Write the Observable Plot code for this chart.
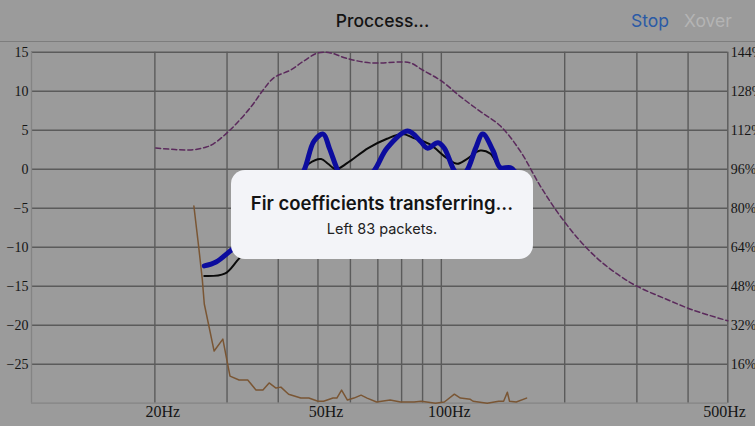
<!DOCTYPE html>
<html><head><meta charset="utf-8">
<script src="https://cdn.jsdelivr.net/npm/d3@7"></script>
<script src="https://cdn.jsdelivr.net/npm/@observablehq/plot@0.6"></script>
<style>
html,body{margin:0;padding:0;background:#9b9b9b;width:755px;height:426px;overflow:hidden;}
#wrap{position:relative;width:755px;height:426px;}
#header{position:absolute;left:0;top:0;width:755px;height:41px;border-bottom:1.5px solid #7d7d7d;font-family:Inter,"Noto Sans",sans-serif;}
#title{position:absolute;left:0;width:765px;text-align:center;top:11px;font-size:17.5px;line-height:20px;font-weight:500;color:#131313;}
#stop{position:absolute;left:631px;top:11px;font-size:17.5px;line-height:20px;color:#2a5aa6;}
#xover{position:absolute;left:684px;top:11px;font-size:17.5px;line-height:20px;color:#b4b4b4;}
#chart{position:absolute;left:0;top:42px;}
#modal{position:absolute;left:231px;top:170px;width:302px;height:89px;border-radius:14px;background:#f3f4f8;font-family:Inter,"Noto Sans",sans-serif;text-align:center;color:#141414;}
#m1{position:absolute;left:0;width:302px;top:22px;font-size:18.5px;line-height:22px;font-weight:600;}
#m2{position:absolute;left:0;width:302px;top:50px;font-size:14.5px;line-height:17px;font-weight:400;color:#222;}
</style>
</head><body>
<div id="wrap">
  <div id="header"><div id="title">Proccess...</div><div id="stop">Stop</div><div id="xover">Xover</div></div>
  <div id="chart"></div>
  <div id="modal"><div id="m1">Fir coefficients transferring...</div><div id="m2">Left 83 packets.</div></div>
</div>
<script>
// Axis ticks and labels
const leftTicks = [15, 10, 5, 0, -5, -10, -15, -20, -25];
const pctLabels = ["144%", "128%", "112%", "96%", "80%", "64%", "48%", "32%", "16%"];
const xGridFreqs = [20, 30, 40, 50, 60, 70, 80, 90, 100, 200, 300, 400, 500];
const xLabelFreqs = [20, 50, 100, 500];
const xLabels = ["20Hz", "50Hz", "100Hz", "500Hz"];

// Blue (thick) response, dB
const blueFreq = [26.4, 28.2, 30.7, 34.3, 38.4, 42.9, 46.2, 48.9, 51.5, 53.3, 55.9, 58.4, 63.9, 68.5, 73.7, 82.8, 88.9, 92.4, 98.1, 101.7, 107.6, 111.3, 115.4, 121.3, 126.2, 133.9, 139.2, 147.1, 152.3];
const blueDb = [-12.4, -11.9, -10.4, -8.5, -6, -2.8, -0.2, 3.6, 4.5, 2.7, -0.2, -2.1, -1.5, -0.2, 2.7, 4.9, 3.6, 2.7, 3.4, 2.7, -0.2, -0.9, -0.2, 2.7, 4.5, 2.3, 0.2, 0.2, -0.5];

// Black response, dB
const blackFreq = [26.4, 29.6, 31.8, 36.3, 41.7, 45.4, 47.5, 50.9, 52.9, 55.3, 59.0, 66.3, 73.7, 80.4, 85.6, 93.6, 103.3, 109.4, 115.4, 124.4, 131.7, 139.2, 149.9];
const blackDb = [-13.7, -13.4, -11.7, -7.9, -2.8, -0.5, 0.7, 1.3, 0.7, 0, 0.8, 2.7, 3.9, 4.5, 4.0, 3.2, 1.4, 0.7, 1.3, 2.4, 2.0, 0.2, 0.2];

// Purple dashed curve, percent (right axis)
const purpleFreq = [20.1, 24.5, 26.7, 27.8, 30.7, 34.3, 36.6, 39.0, 42.9, 46.2, 50, 53.7, 58.4, 67.2, 80, 84.1, 90, 100, 111.3, 124.4, 139.2, 155.7, 174.2, 194.8, 218, 244, 273, 300, 350, 410, 500];
const purplePct = [104.7, 103.9, 105.1, 106.4, 112.5, 121.5, 128.1, 133.5, 136.7, 140.4, 143.7, 143.7, 141.6, 139.6, 140, 139.6, 136.7, 132.2, 125.8, 119.7, 113.8, 103.5, 89.2, 76.9, 66.6, 58.4, 52.2, 48.0, 43.0, 38.3, 33.8];

// Brown curve, percent (right axis)
const brownFreq = [24.9, 25.6, 26.1, 26.4, 27.9, 29.3, 30.5, 32.1, 33.7, 35.3, 36.7, 38.0, 39.5, 40.6, 42.4, 45.4, 47.5, 50.0, 51.6, 54.4, 55.6, 57.1, 59.0, 61.2, 63.7, 65.9, 69.5, 75.0, 79.5, 85.8, 89.3, 96.8, 101.7, 107.6, 111.3, 117.7, 119.5, 129.4, 138.0, 141.9, 144.9, 146.7, 152.3, 161.4];
const brownPct = [80.9, 63.7, 51.0, 40.7, 21.4, 26.3, 11.1, 9.5, 9.5, 5.4, 5.4, 8.3, 6.2, 6.6, 3.7, 2.1, 2.1, 0.8, 0.8, 2.1, 2.1, 5.4, 1.3, 2.1, 3.3, 2.1, 0.5, 1.3, 0.5, 0.5, 0.8, 0, 0.5, 3.7, 2.1, 1.6, 0.8, 0, 0.8, 0.8, 4.5, 0.8, 0.5, 2.1];

const pctToDb = p => (p - 96) / 3.2;
const zipDb = (fs, vs) => fs.map((f, i) => ({f, v: vs[i]}));
const zipPct = (fs, ps) => fs.map((f, i) => ({f, v: pctToDb(ps[i])}));

const blue = zipDb(blueFreq, blueDb);
const black = zipDb(blackFreq, blackDb);
const purple = zipPct(purpleFreq, purplePct);
const brown = zipPct(brownFreq, brownPct);
const xLab = xLabelFreqs.map((f, i) => ({f, label: xLabels[i]}));

const chart = Plot.plot({
  width: 755,
  height: 384,
  marginTop: 9.7,
  marginBottom: 23.3,
  marginLeft: 31,
  marginRight: 27.7,
  style: {background: "transparent", fontFamily: "'Liberation Serif', serif", color: "#151515", overflow: "visible"},
  x: {type: "log", domain: [10, 500], axis: null, label: null},
  y: {domain: [-30, 15], label: null},
  marks: [
    Plot.ruleX(xGridFreqs, {stroke: "#5b5b5b", strokeWidth: 1.4}),
    Plot.ruleY(leftTicks, {stroke: "#5b5b5b", strokeWidth: 1.4}),
    Plot.ruleX([10], {stroke: "#848484", strokeWidth: 1.3}),
    Plot.ruleY([-30], {stroke: "#848484", strokeWidth: 1.3}),
    Plot.axisY(leftTicks, {anchor: "left", tickSize: 0, tickPadding: 3, fontSize: 14, label: null}),
    Plot.axisY(leftTicks, {anchor: "right", tickSize: 0, tickPadding: 3, fontSize: 14, label: null,
      tickFormat: d => pctLabels[leftTicks.indexOf(d)]}),
    Plot.line(purple, {x: "f", y: "v", stroke: "#5b2a5c", strokeWidth: 1.5, strokeDasharray: "5,3", curve: "catmull-rom"}),
    Plot.line(brown, {x: "f", y: "v", stroke: "#7a5634", strokeWidth: 1.5}),
    Plot.line(black, {x: "f", y: "v", stroke: "#0a0a0a", strokeWidth: 2, curve: "catmull-rom"}),
    Plot.line(blue, {x: "f", y: "v", stroke: "#0c0c9e", strokeWidth: 5, curve: "catmull-rom", strokeLinecap: "round"}),
    Plot.text(xLab.filter(d => d.f < 500), {x: "f", text: "label", frameAnchor: "bottom", lineAnchor: "middle", dy: 9, dx: 8, fontSize: 16}),
    Plot.text(xLab.filter(d => d.f >= 500), {x: "f", text: "label", frameAnchor: "bottom", lineAnchor: "middle", textAnchor: "end", dy: 9, dx: 18, fontSize: 16})
  ]
});
document.getElementById("chart").appendChild(chart);
</script>
</body></html>
